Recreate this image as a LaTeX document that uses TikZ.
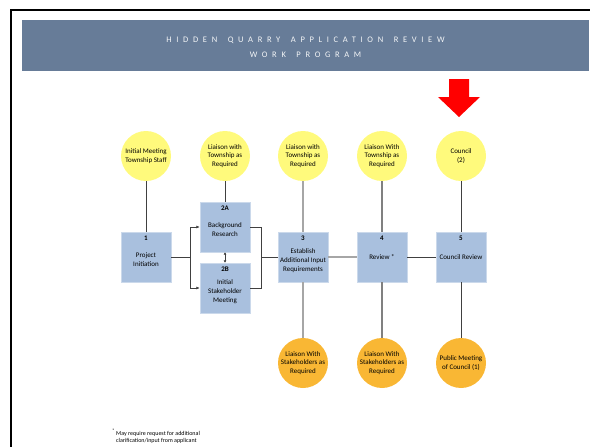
\documentclass[tikz,border=0pt]{standalone}
\usepackage{fontspec}
\setmainfont{Carlito}
\newfontfamily\titlefont[LetterSpace=55,WordSpace=1.6]{Carlito}
\usetikzlibrary{arrows.meta, positioning}

\definecolor{bandblue}{HTML}{677C98}
\definecolor{stageblue}{HTML}{A9C0DE}
\definecolor{townyellow}{HTML}{FFFA7C}
\definecolor{stakeorange}{HTML}{F9B734}
\definecolor{linkdark}{HTML}{404040}
\definecolor{linkmid}{HTML}{808080}
\definecolor{linkpale}{HTML}{A6A6A6}

\begin{document}
\begin{tikzpicture}[x=1pt,y=-1pt,on grid,
        >={Latex[length=3.5pt,width=3pt]},
        txt/.style={align=center,font=\fontsize{7}{8.8}\selectfont},
        stage/.style={txt,rectangle,fill=stageblue,draw=stageblue!60!white,minimum size=50pt,inner sep=0pt},
        stagenum/.style={label={[anchor=north,inner sep=3.5pt,font=\bfseries\fontsize{7}{8}\selectfont]north:#1}},
        town/.style={txt,circle,fill=townyellow,minimum size=50pt,inner sep=0pt},
        stake/.style={town,fill=stakeorange},
        link/.style={draw=linkdark,line width=0.9pt},
        midlink/.style={draw=linkmid,line width=1.1pt},
        palelink/.style={draw=linkpale,line width=1.2pt}]
    \useasboundingbox (0,0) rectangle (590,447);

    % frame and title band
    \draw[line width=2pt] (11,447) -- (11,10) -- (590,10);
    \fill[bandblue] (22,20) rectangle (589,71);
    \node[align=center,text=white!92!bandblue,font=\titlefont\fontsize{8.5}{15}\selectfont] (title) at (305.5,47.5)
        {HIDDEN QUARRY APPLICATION REVIEW\\WORK PROGRAM};

    % red marker
    \fill[red] (449,79) -- (469,79) -- (469,97) -- (480,97) -- (459,117) -- (438,97) -- (449,97) -- cycle;

    % stages
    \node[stage, stagenum=1]    (b1)  at (146,257) {\\[2pt]Project\\Initiation};
    \node[stage, stagenum=2A]   (b2a) at (225,227) {\\[1pt]Background\\Research};
    \node[stage, stagenum=2B]   (b2b) at (225,288) {\\[3pt]Initial\\Stakeholder\\Meeting};
    \node[stage, stagenum=3]    (b3)  at (303,257) {\\[3pt]Establish\\Additional Input\\Requirements};
    \node[stage, stagenum=4]    (b4)  at (382,257) {Review *};
    \node[stage, stagenum=5]    (b5)  at (461,257) {Council Review};

    % township liaison
    \node[town] (t1)  [above=101pt of b1]  {Initial Meeting\\Township Staff};
    \node[town] (t2a) [above=71pt of b2a]  {Liaison with\\Township as\\Required};
    \node[town] (t3)  [above=101pt of b3]  {Liaison with\\Township as\\Required};
    \node[town] (t4)  [above=101pt of b4]  {Liaison With\\Township as\\Required};
    \node[town] (t5)  [above=101pt of b5]  {Council\\(2)};

    % stakeholder liaison
    \node[stake] (s3) [below=106pt of b3]  {Liaison With\\Stakeholders as\\Required};
    \node[stake] (s4) [below=106pt of b4]  {Liaison With\\Stakeholders as\\Required};
    \node[stake] (s5) [below=106pt of b5]  {Public Meeting\\of Council (1)};

    \coordinate[right=44pt of b1]  (fork);
    \coordinate[right=115pt of b1] (merge);

    \path[link] (t1) -- (b1)
        (t2a) -- (b2a)
        (b1) -- (fork)
        (b2a) -| (merge)
        (b2b) -| (merge)
        (merge) -- (b3)
        (b4) -- (b5)
        (t5) -- (b5)
        (b5) -- (s5);
    \draw[link,->] (fork) |- (b2a);
    \draw[link,->] (fork) |- (b2b);
    \draw[link,<->,line width=0.7pt,>={Latex[length=2.5pt,width=3pt]}] (b2a) -- (b2b);
    \path[palelink] (t3) -- (b3) (b3) -- (s3) (b3) -- (b4);
    \path[midlink] (t4) -- (b4) (b4) -- (s4);

    % footnote
    \node[anchor=north west,inner sep=0pt,font=\fontsize{6}{7}\selectfont] (note) at (112,429)
        {\begin{tabular}{@{}l@{\,}l@{}}\textsuperscript{*} & May require request for additional\\
         & clarification/input from applicant\end{tabular}};
\end{tikzpicture}
\end{document}
